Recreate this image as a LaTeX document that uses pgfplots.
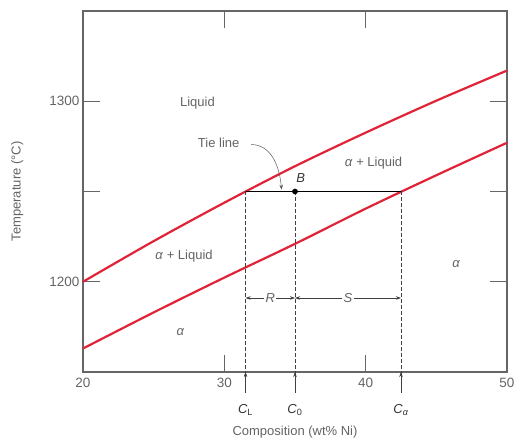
\documentclass[border=0pt]{standalone}
\usepackage{pgfplots}
\pgfplotsset{compat=1.18}
\usetikzlibrary{arrows.meta}
\usepackage{fontspec}
\setmainfont{Liberation Sans}
\definecolor{curvered}{RGB}{225,35,55}
\definecolor{txtgray}{RGB}{100,100,100}
\begin{document}
\begin{tikzpicture}[font=\fontsize{13}{14}\selectfont]
\begin{axis}[name=ax, scale only axis, width=424pt, height=361pt,
  xmin=20, xmax=50, ymin=1150, ymax=1350,
  xtick={20,30,40,50}, ytick={1200,1250,1300}, yticklabels={1200,,1300},
  tick align=inside, major tick length=17pt,
  axis line style={black!60, line width=1.1pt},
  tick style={black!60, line width=0.9pt},
  ticklabel style={font=\fontsize{13.5}{14}\selectfont, text=txtgray},
  xticklabel style={yshift=-3pt},
  /pgf/number format/assume math mode=true,
  /pgf/number format/set thousands separator={},
  clip=false,
  xlabel={Composition (wt\% Ni)}, ylabel={Temperature (°C)},
  label style={font=\fontsize{13}{14}\selectfont, text=txtgray},
  xlabel style={at={(axis description cs:0.5,-0.166)}, anchor=center},
  ylabel style={at={(axis description cs:-0.155,0.5)}, anchor=center},
]
% liquidus
\addplot[curvered, line width=2.2pt, smooth] coordinates {(20,1200) (25,1222.5) (30,1243.8) (35,1264) (40,1282.6) (45,1300.3) (50,1317)};
% solidus
\addplot[curvered, line width=2.2pt, smooth] coordinates {(20,1163) (25,1183) (30,1202.3) (35,1221) (40,1240.5) (45,1259) (50,1277)};
% tie line
\addplot[black, line width=0.8pt] coordinates {(31.5,1250) (42.5,1250)};
% dashed verticals
\addplot[black!75, line width=0.5pt, dash pattern=on 4pt off 2pt] coordinates {(31.5,1250) (31.5,1137)};
\addplot[black!75, line width=0.5pt, dash pattern=on 4pt off 2pt] coordinates {(35,1250) (35,1137)};
\addplot[black!75, line width=0.5pt, dash pattern=on 4pt off 2pt] coordinates {(42.5,1250) (42.5,1137)};
% point B
\addplot[only marks, mark=*, mark size=2.6pt, black] coordinates {(35,1250)};
% upward arrows below axis
\draw[-{Stealth[length=5pt,width=3.5pt]}, black!75, line width=0.5pt] (axis cs:31.5,1140) -- (axis cs:31.5,1150);
\draw[-{Stealth[length=5pt,width=3.5pt]}, black!75, line width=0.5pt] (axis cs:35,1140) -- (axis cs:35,1150);
\draw[-{Stealth[length=5pt,width=3.5pt]}, black!75, line width=0.5pt] (axis cs:42.5,1140) -- (axis cs:42.5,1150);
% R and S
\draw[{Stealth[length=5pt,width=3.5pt]}-{Stealth[length=5pt,width=3.5pt]}, black!75, line width=0.5pt] (axis cs:31.5,1191) -- node[fill=white, inner sep=1.5pt, text=txtgray]{\textit{R}} (axis cs:35,1191);
\draw[{Stealth[length=5pt,width=3.5pt]}-{Stealth[length=5pt,width=3.5pt]}, black!75, line width=0.5pt] (axis cs:35,1191) -- node[fill=white, inner sep=1.5pt, text=txtgray]{\textit{S}} (axis cs:42.5,1191);
% tie line pointer
\draw[-{Stealth[length=5pt,width=3.5pt]}, black!65, line width=0.5pt] (axis cs:31.9,1276) to[out=0, in=95] (axis cs:34.05,1251);
% labels
\node[text=txtgray] at (axis cs:29.6,1277) {Tie line};
\node[text=txtgray] at (axis cs:28.1,1299) {Liquid};
\node[text=txtgray] at (axis cs:40.56,1265.5) {\textit{α} + Liquid};
\node[text=txtgray] at (axis cs:27.15,1214.4) {\textit{α} + Liquid};
\node[text=txtgray] at (axis cs:26.9,1172) {\textit{α}};
\node[text=txtgray] at (axis cs:46.4,1210) {\textit{α}};
\node[text=black!80] at (axis cs:35.4,1257.5) {\textit{B}};
\node[text=black!80] at (axis cs:31.5,1129) {\textit{C}\textsubscript{L}};
\node[text=black!80] at (axis cs:35,1129) {\textit{C}\textsubscript{0}};
\node[text=black!80] at (axis cs:42.5,1129) {\textit{C}\textsubscript{\textit{α}}};
\end{axis}
\pgfresetboundingbox
\path[use as bounding box] ([xshift=-83pt,yshift=-71pt]ax.south west) rectangle ([xshift=10pt,yshift=11pt]ax.north east);
\end{tikzpicture}
\end{document}
